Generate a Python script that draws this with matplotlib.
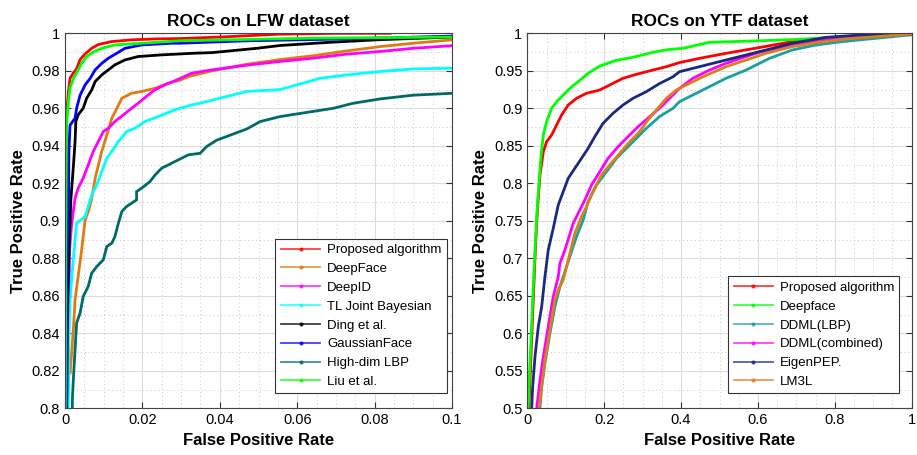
import matplotlib
matplotlib.use("Agg")
import matplotlib.pyplot as plt
from matplotlib.lines import Line2D
from matplotlib.ticker import MultipleLocator, FormatStrFormatter
import numpy as np

plt.rcParams['font.family'] = ['Liberation Sans', 'DejaVu Sans']

# ---------------- LFW data ----------------
lfw_names = ["Proposed algorithm", "DeepFace", "DeepID", "TL Joint Bayesian",
             "Ding et al.", "GaussianFace", "High-dim LBP", "Liu et al."]
lfw_colors = ["#ff0000", "#e07b10", "#ff00ff", "#00ffff",
              "#000000", "#0000ff", "#006a6a", "#00ff00"]

lfw_proposed_fpr = [0.0002, 0.0003, 0.0004, 0.0009, 0.0013, 0.0022, 0.0030, 0.0039, 0.0052, 0.0069,
                    0.0086, 0.0121, 0.0172, 0.0233, 0.0297, 0.040, 0.055, 0.070, 0.084]
lfw_proposed_tpr = [0.79, 0.90, 0.9566, 0.969, 0.976, 0.979, 0.981, 0.986, 0.989, 0.992,
                    0.994, 0.9956, 0.9965, 0.997, 0.9972, 0.998, 0.9995, 1.0, 1.0]

lfw_deepface_fpr = [0.0013, 0.0017, 0.0022, 0.0026, 0.0034, 0.0043, 0.0052, 0.0062, 0.0069, 0.0078,
                    0.0095, 0.0108, 0.0121, 0.0134, 0.0147, 0.0172, 0.0198, 0.0233, 0.0267, 0.0297,
                    0.0319, 0.038, 0.047, 0.0556, 0.064, 0.0728, 0.0814, 0.09, 0.1]
lfw_deepface_tpr = [0.8188, 0.829, 0.8437, 0.858, 0.8703, 0.8845, 0.9005, 0.906, 0.912, 0.9228,
                    0.937, 0.9458, 0.9547, 0.96, 0.9654, 0.968, 0.969, 0.9707, 0.9734, 0.975,
                    0.9769, 0.980, 0.9835, 0.986, 0.988, 0.9906, 0.9929, 0.9947, 0.9965]

lfw_deepid_fpr = [0.0006, 0.0009, 0.0012, 0.0017, 0.0026, 0.0034, 0.0047, 0.006, 0.0073, 0.0086,
                  0.0099, 0.0112, 0.0129, 0.0151, 0.0172, 0.0189, 0.021, 0.0232, 0.0258, 0.029,
                  0.0327, 0.038, 0.047, 0.0556, 0.064, 0.0728, 0.0814, 0.09, 0.1]
lfw_deepid_tpr = [0.79, 0.84, 0.885, 0.898, 0.912, 0.9174, 0.9228, 0.9298, 0.937, 0.9423,
                  0.9476, 0.9494, 0.953, 0.9565, 0.96, 0.9627, 0.9663, 0.9698, 0.9725, 0.9752,
                  0.9787, 0.9805, 0.983, 0.985, 0.9867, 0.9889, 0.9903, 0.992, 0.9934]

lfw_tl_fpr = [0.0008, 0.001, 0.0013, 0.0017, 0.0026, 0.003, 0.0052, 0.0056, 0.0069, 0.0082,
              0.0095, 0.0108, 0.0121, 0.0138, 0.0159, 0.0181, 0.0207, 0.0241, 0.0284, 0.0327,
              0.0349, 0.040, 0.047, 0.0556, 0.0599, 0.0659, 0.0728, 0.0814, 0.09, 0.1]
lfw_tl_tpr = [0.79, 0.8366, 0.858, 0.8686, 0.8899, 0.8988, 0.9023, 0.905, 0.9139, 0.9192,
              0.9263, 0.9334, 0.937, 0.9423, 0.9476, 0.9494, 0.953, 0.9556, 0.9592, 0.9618,
              0.9627, 0.9654, 0.969, 0.970, 0.9725, 0.976, 0.9778, 0.9796, 0.981, 0.9814]

lfw_ding_fpr = [0.0004, 0.0006, 0.0009, 0.0015, 0.0022, 0.0026, 0.0028, 0.0034, 0.0047, 0.0056,
                0.0069, 0.0078, 0.0095, 0.0112, 0.0129, 0.0155, 0.0189, 0.025, 0.0336, 0.038,
                0.0496, 0.0556, 0.0685, 0.0814, 0.1]
lfw_ding_tpr = [0.79, 0.84, 0.8756, 0.911, 0.93, 0.9423, 0.953, 0.9565, 0.96, 0.9654,
                0.9698, 0.9743, 0.9778, 0.9805, 0.9832, 0.9858, 0.9876, 0.9885, 0.9894, 0.9897,
                0.992, 0.9935, 0.9952, 0.9966, 0.998]

lfw_gauss_fpr = [0.0004, 0.0006, 0.0009, 0.001, 0.0013, 0.0026, 0.003, 0.0039, 0.0052, 0.0065,
                 0.0078, 0.0095, 0.0112, 0.0134, 0.0155, 0.0198, 0.0276, 0.0297, 0.047, 0.073, 0.1]
lfw_gauss_tpr = [0.79, 0.88, 0.911, 0.937, 0.951, 0.9547, 0.96, 0.967, 0.9725, 0.976,
                 0.9805, 0.984, 0.9867, 0.9894, 0.992, 0.9938, 0.9947, 0.9947, 0.996, 0.997, 0.9985]

lfw_lbp_fpr = [0.0019, 0.0019, 0.0022, 0.0026, 0.003, 0.0039, 0.0047, 0.006, 0.0069, 0.0082,
               0.0099, 0.0108, 0.0121, 0.0129, 0.0138, 0.0147, 0.0159, 0.0185, 0.0185, 0.0198,
               0.022, 0.0233, 0.025, 0.0267, 0.0284, 0.0319, 0.0349, 0.0366, 0.0392, 0.047,
               0.0504, 0.0556, 0.064, 0.0693, 0.0745, 0.0814, 0.09, 0.1]
lfw_lbp_tpr = [0.79, 0.8046, 0.817, 0.8312, 0.8455, 0.8508, 0.8596, 0.865, 0.8721, 0.8756,
               0.8792, 0.8863, 0.8881, 0.8916, 0.8988, 0.905, 0.9076, 0.9112, 0.9156, 0.9174,
               0.921, 0.9245, 0.9281, 0.9298, 0.9316, 0.9352, 0.936, 0.9396, 0.943, 0.949,
               0.9529, 0.9556, 0.9583, 0.96, 0.9627, 0.965, 0.967, 0.968]

lfw_liu_fpr = [0.0001, 0.0002, 0.0003, 0.0004, 0.0009, 0.0013, 0.0022, 0.0034, 0.0043, 0.0056,
               0.0073, 0.0095, 0.0129, 0.0198, 0.0297, 0.064, 0.1]
lfw_liu_tpr = [0.79, 0.89, 0.93, 0.951, 0.964, 0.971, 0.976, 0.9805, 0.984, 0.9876,
               0.990, 0.992, 0.9938, 0.9947, 0.996, 0.9974, 0.998]

lfw_series = [(lfw_proposed_fpr, lfw_proposed_tpr), (lfw_deepface_fpr, lfw_deepface_tpr),
              (lfw_deepid_fpr, lfw_deepid_tpr), (lfw_tl_fpr, lfw_tl_tpr),
              (lfw_ding_fpr, lfw_ding_tpr), (lfw_gauss_fpr, lfw_gauss_tpr),
              (lfw_lbp_fpr, lfw_lbp_tpr), (lfw_liu_fpr, lfw_liu_tpr)]

# ---------------- YTF data ----------------
ytf_names = ["Proposed algorithm", "Deepface", "DDML(LBP)", "DDML(combined)", "EigenPEP.", "LM3L"]
ytf_colors = ["#ff0000", "#00ff00", "#1aa0a0", "#ff00ff", "#1a2a80", "#d98019"]

ytf_proposed_fpr = [0.004, 0.008, 0.012, 0.016, 0.02, 0.024, 0.027, 0.033, 0.0416, 0.0502,
                    0.0632, 0.0762, 0.0891, 0.1064, 0.128, 0.154, 0.1886, 0.2145, 0.249, 0.2838,
                    0.3269, 0.3616, 0.396, 0.448, 0.517, 0.6036, 0.689, 0.777, 0.863, 0.949, 1.0]
ytf_proposed_tpr = [0.5, 0.55, 0.6, 0.65, 0.7, 0.744, 0.77, 0.811, 0.842, 0.8555,
                    0.8644, 0.8777, 0.891, 0.9044, 0.9133, 0.92, 0.9244, 0.9311, 0.94, 0.9453,
                    0.951, 0.9555, 0.961, 0.9666, 0.9733, 0.981, 0.9889, 0.9924, 0.995, 0.9968, 0.999]

ytf_deepface_fpr = [0.002, 0.007, 0.012, 0.017, 0.021, 0.025, 0.029, 0.035, 0.0416, 0.0502,
                    0.0632, 0.0762, 0.0934, 0.1108, 0.1323, 0.1582, 0.1886, 0.2319, 0.275, 0.3269,
                    0.3616, 0.405, 0.474, 0.6036, 0.7074, 0.82, 0.949, 1.0]
ytf_deepface_tpr = [0.5, 0.56, 0.62, 0.68, 0.72, 0.76, 0.79, 0.833, 0.8644, 0.8822,
                    0.9, 0.9088, 0.9177, 0.9266, 0.9355, 0.9466, 0.9564, 0.9640, 0.968, 0.9747,
                    0.978, 0.980, 0.988, 0.990, 0.992, 0.9955, 0.9977, 0.999]

ytf_ddml_lbp_fpr = [0.033, 0.0374, 0.0459, 0.0589, 0.0719, 0.0848, 0.102, 0.128, 0.1453, 0.1582,
                    0.18, 0.206, 0.2319, 0.2578, 0.2838, 0.3097, 0.344, 0.379, 0.396, 0.4566,
                    0.517, 0.569, 0.63, 0.689, 0.7507, 0.82, 0.906, 1.0]
ytf_ddml_lbp_tpr = [0.5, 0.5288, 0.56, 0.6, 0.6355, 0.6621, 0.6888, 0.7288, 0.751, 0.7755,
                    0.7977, 0.8155, 0.8333, 0.8466, 0.86, 0.8733, 0.889, 0.9, 0.9088, 0.9244,
                    0.94, 0.951, 0.9666, 0.9777, 0.9844, 0.9889, 0.9933, 0.998]

ytf_ddml_comb_fpr = [0.0244, 0.033, 0.0416, 0.0545, 0.0675, 0.0805, 0.0848, 0.0978, 0.1193, 0.1323,
                     0.1497, 0.167, 0.1886, 0.21, 0.236, 0.262, 0.288, 0.3183, 0.3486, 0.379,
                     0.396, 0.4306, 0.474, 0.517, 0.5604, 0.6036, 0.689, 0.777, 0.863, 1.0]
ytf_ddml_comb_tpr = [0.5, 0.5377, 0.5688, 0.6088, 0.6488, 0.6755, 0.6933, 0.711, 0.7466, 0.76,
                     0.7777, 0.7977, 0.8155, 0.8333, 0.8488, 0.8622, 0.8755, 0.8888, 0.9022, 0.9177,
                     0.9266, 0.94, 0.951, 0.96, 0.9675, 0.9747, 0.9844, 0.991, 0.9955, 0.999]

ytf_eigen_fpr = [0.0114, 0.014, 0.02, 0.0286, 0.0374, 0.0459, 0.0545, 0.0675, 0.0805, 0.0934,
                 0.1064, 0.1237, 0.141, 0.1582, 0.1756, 0.1971, 0.223, 0.249, 0.275, 0.3097,
                 0.344, 0.379, 0.396, 0.448, 0.517, 0.6036, 0.689, 0.777, 0.863, 1.0]
ytf_eigen_tpr = [0.5, 0.5288, 0.5688, 0.6088, 0.6355, 0.6755, 0.711, 0.74, 0.771, 0.7888,
                 0.8066, 0.82, 0.8333, 0.8466, 0.8622, 0.88, 0.8933, 0.9044, 0.9133, 0.9222,
                 0.933, 0.942, 0.9488, 0.9555, 0.9644, 0.9755, 0.9866, 0.9946, 0.9977, 0.999]

ytf_lm3l_fpr = [0.031, 0.0374, 0.0459, 0.0589, 0.0719, 0.0805, 0.0934, 0.1237, 0.141, 0.154,
                0.167, 0.193, 0.2145, 0.2405, 0.2664, 0.2923, 0.3139, 0.3357, 0.3616, 0.3875,
                0.4134, 0.4566, 0.517, 0.569, 0.621, 0.689, 0.759, 0.8285, 0.906, 1.0]
ytf_lm3l_tpr = [0.5, 0.5288, 0.5644, 0.6044, 0.6444, 0.6577, 0.671, 0.7333, 0.7555, 0.7688,
                0.785, 0.811, 0.8244, 0.84, 0.8555, 0.8688, 0.8844, 0.8977, 0.9133, 0.9244,
                0.931, 0.942, 0.9555, 0.9644, 0.9733, 0.9822, 0.988, 0.9924, 0.9955, 0.999]

ytf_series = [(ytf_proposed_fpr, ytf_proposed_tpr), (ytf_deepface_fpr, ytf_deepface_tpr),
              (ytf_ddml_lbp_fpr, ytf_ddml_lbp_tpr), (ytf_ddml_comb_fpr, ytf_ddml_comb_tpr),
              (ytf_eigen_fpr, ytf_eigen_tpr), (ytf_lm3l_fpr, ytf_lm3l_tpr)]

# ---------------- figure ----------------
W, H = 917, 455
fig = plt.figure(figsize=(W / 100, H / 100), dpi=100)
ax1 = fig.add_axes([65 / W, 1 - 408.3 / H, (452 - 65) / W, 375 / H])
ax2 = fig.add_axes([527.3 / W, 1 - 408.3 / H, (911.7 - 527.3) / W, 375 / H])


def style(ax, xlim, ylim, xmaj, xmin, ymaj, ymin, title):
    ax.set_xlim(*xlim)
    ax.set_ylim(*ylim)
    ax.xaxis.set_major_locator(MultipleLocator(xmaj))
    ax.xaxis.set_minor_locator(MultipleLocator(xmin))
    ax.yaxis.set_major_locator(MultipleLocator(ymaj))
    ax.yaxis.set_minor_locator(MultipleLocator(ymin))
    ax.xaxis.set_major_formatter(FormatStrFormatter('%g'))
    ax.yaxis.set_major_formatter(FormatStrFormatter('%g'))
    ax.grid(which='major', color='#dcdcdc', linewidth=0.8, linestyle='-')
    ax.grid(which='minor', color='#c8c8c8', linewidth=0.7, linestyle=(0, (1, 3)))
    ax.set_axisbelow(True)
    ax.tick_params(which='both', direction='in', top=True, right=True, labelsize=10.5,
                   color='#333333')
    ax.tick_params(which='major', length=4)
    ax.tick_params(which='minor', length=0)
    for s in ax.spines.values():
        s.set_color('#444444')
        s.set_linewidth(0.8)
    ax.set_title(title, fontsize=12.5, fontweight='bold', pad=5)
    ax.set_xlabel('False Positive Rate', fontsize=12, fontweight='bold', labelpad=4)
    ax.set_ylabel('True Positive Rate', fontsize=12, fontweight='bold', labelpad=4)


style(ax1, (0, 0.1), (0.8, 1.0), 0.02, 0.005, 0.02, 0.01, 'ROCs on LFW dataset')
style(ax2, (0, 1.0), (0.5, 1.0), 0.2, 0.05, 0.05, 0.025, 'ROCs on YTF dataset')

for (x, y), c in zip(lfw_series, lfw_colors):
    ax1.plot(x, y, color=c, linewidth=2.0, solid_joinstyle='miter')
for (x, y), c in zip(ytf_series, ytf_colors):
    ax2.plot(x, y, color=c, linewidth=2.0)


def legend(ax, names, colors, anchor):
    handles = [Line2D([0], [0], color=c, linewidth=1.3, marker='.', markersize=4, alpha=0.75)
               for c in colors]
    leg = ax.legend(handles, names, loc='lower right', bbox_to_anchor=anchor,
                    fontsize=9.5, frameon=True, fancybox=False, framealpha=1,
                    edgecolor='#333333', borderaxespad=0, handlelength=3.0,
                    handletextpad=0.5, labelspacing=0.5, borderpad=0.4)
    leg.get_frame().set_linewidth(0.8)


legend(ax1, lfw_names, lfw_colors, (0.986, 0.04))
legend(ax2, ytf_names, ytf_colors, (0.968, 0.04))

fig.savefig('out.png', dpi=100)
